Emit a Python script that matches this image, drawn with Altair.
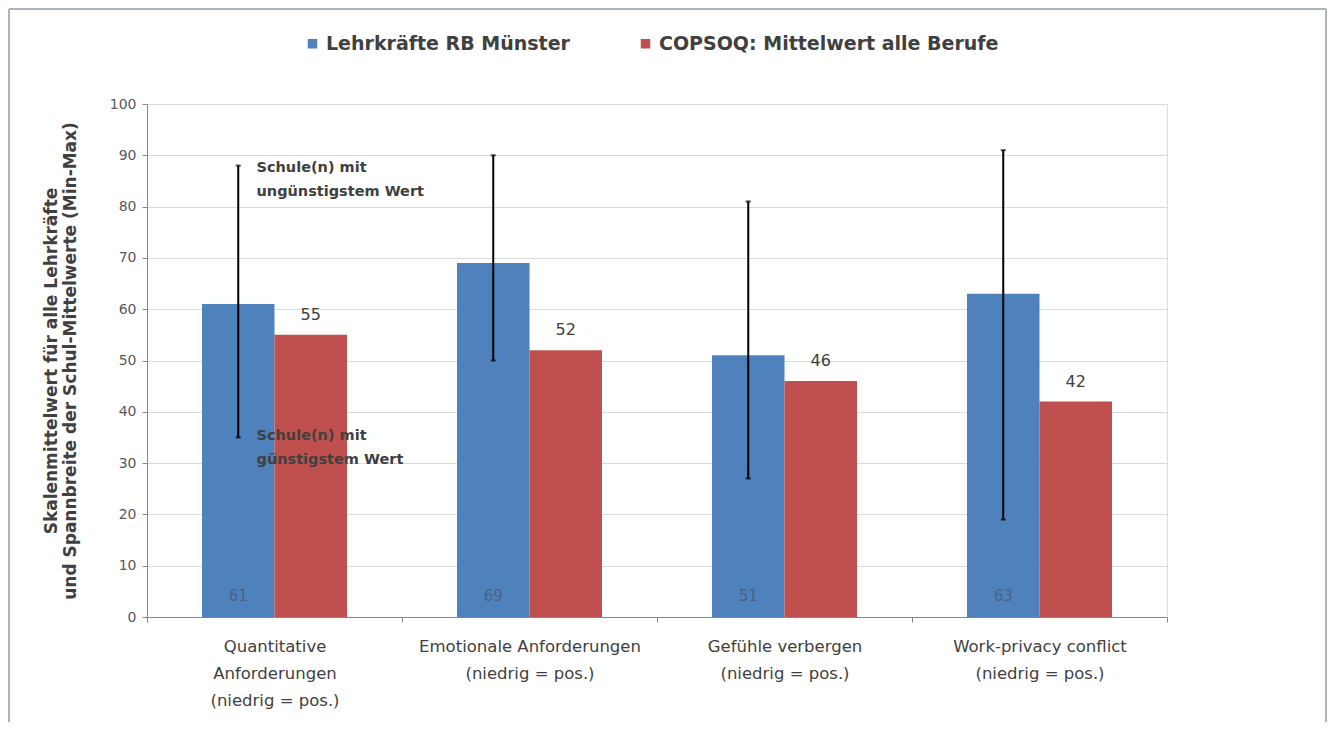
import altair as alt
import pandas as pd

categories = [
    "Quantitative\nAnforderungen\n(niedrig = pos.)",
    "Emotionale Anforderungen\n(niedrig = pos.)",
    "Gefühle verbergen\n(niedrig = pos.)",
    "Work-privacy conflict\n(niedrig = pos.)",
]
series = ["Lehrkräfte RB Münster", "COPSOQ: Mittelwert alle Berufe"]
lehrer_values = [61, 69, 51, 63]
copsoq_values = [55, 52, 46, 42]
range_min = [35, 50, 27, 19]
range_max = [88, 90, 81, 91]
annot_text = [["Schule(n) mit", "ungünstigstem Wert"], ["Schule(n) mit", "günstigstem Wert"]]
annot_y = [87.6, 35.2]

colors = ["#4F81BD", "#C0504D"]
FONT = "DejaVu Sans"

rows = []
for c, a, b in zip(categories, lehrer_values, copsoq_values):
    rows.append({"cat": c, "series": series[0], "value": a})
    rows.append({"cat": c, "series": series[1], "value": b})
bars_df = pd.DataFrame(rows)

err_df = pd.DataFrame({
    "cat": categories,
    "series": [series[0]] * 4,
    "lo": range_min,
    "hi": range_max,
    "value": lehrer_values,
})
red_df = pd.DataFrame({"cat": categories, "series": [series[1]] * 4, "value": copsoq_values})
annot_df = pd.DataFrame({"cat": [categories[0]] * 2, "txt": annot_text, "y": annot_y})

x_scale = alt.Scale(paddingInner=0, paddingOuter=0)
x_enc = alt.X(
    "cat:N",
    sort=categories,
    scale=x_scale,
    axis=alt.Axis(
        title=None,
        labelAngle=0,
        labelExpr="split(datum.label, '\\n')",
        labelFont=FONT,
        labelFontSize=16.5,
        labelColor="#404040",
        labelLineHeight=27,
        labelPadding=16,
        labelLimit=0,
        tickBand="extent",
        tickSize=5,
        tickColor="#868686",
        domainColor="#868686",
        labelBaseline="top",
    ),
)
x_plain = alt.X("cat:N", sort=categories, scale=x_scale)
xoff = alt.XOffset(
    "series:N", sort=series,
    scale=alt.Scale(domain=series, paddingInner=0, paddingOuter=0.7586),
)

bars = alt.Chart(bars_df).mark_bar().encode(
    x=x_enc,
    xOffset=xoff,
    y=alt.Y(
        "value:Q",
        scale=alt.Scale(domain=[0, 100]),
        axis=alt.Axis(
            values=list(range(0, 101, 10)),
            title=["Skalenmittelwert für alle Lehrkräfte", "und Spannbreite der Schul-Mittelwerte (Min-Max)"],
            titleFont=FONT,
            titleFontSize=17,
            titleFontWeight="bold",
            titleColor="#404040",
            titleLineHeight=19,
            titlePadding=30,
            labelFont=FONT,
            labelFontSize=14,
            labelColor="#595959",
            labelPadding=6,
            tickSize=5,
            tickColor="#868686",
            domainColor="#868686",
            gridColor="#d9d9d9",
        ),
    ),
    color=alt.Color(
        "series:N",
        sort=series,
        scale=alt.Scale(domain=series, range=colors),
        legend=alt.Legend(
            title=None,
            orient="none",
            direction="horizontal",
            legendX=156,
            legendY=-70,
            symbolType="square",
            symbolSize=90,
            symbolStrokeWidth=0,
            labelFont=FONT,
            labelFontSize=19,
            labelFontWeight="bold",
            labelColor="#404040",
            labelLimit=0,
            columnPadding=66,
            labelOffset=4,
        ),
    ),
)

err_rule = alt.Chart(err_df).mark_rule(color="black", strokeWidth=2).encode(
    x=x_plain, xOffset=xoff, y="lo:Q", y2="hi:Q"
)
cap_hi = alt.Chart(err_df).mark_tick(color="black", size=5, thickness=2).encode(
    x=x_plain, xOffset=xoff, y="hi:Q"
)
cap_lo = alt.Chart(err_df).mark_tick(color="black", size=5, thickness=2).encode(
    x=x_plain, xOffset=xoff, y="lo:Q"
)

blue_labels = alt.Chart(err_df).mark_text(
    font=FONT, fontSize=15, color="#4a6288", baseline="middle"
).encode(
    x=x_plain, xOffset=xoff, y=alt.datum(4), text="value:Q"
)
red_labels = alt.Chart(red_df).mark_text(
    font=FONT, fontSize=16, color="#404040", baseline="middle", dy=-20
).encode(
    x=x_plain, xOffset=xoff, y="value:Q", text="value:Q"
)
annots = alt.Chart(annot_df).mark_text(
    font=FONT, fontSize=14.5, fontWeight="bold", color="#404040", align="left",
    baseline="middle", dx=-18, lineHeight=24,
).encode(
    x=x_plain, y="y:Q", text="txt"
)

frame_df = pd.DataFrame({"k": [0]})
frame_col = "#a9b5c0"
top_line = alt.Chart(frame_df).mark_rule(color=frame_col, strokeWidth=2).encode(
    x=alt.value(-138), x2=alt.value(1179), y=alt.value(-95)
)
left_line = alt.Chart(frame_df).mark_rule(color=frame_col, strokeWidth=2).encode(
    x=alt.value(-138), y=alt.value(-95), y2=alt.value(625)
)
right_line = alt.Chart(frame_df).mark_rule(color=frame_col, strokeWidth=2).encode(
    x=alt.value(1179), y=alt.value(-95), y2=alt.value(625)
)

chart = alt.layer(
    bars, err_rule, cap_hi, cap_lo, blue_labels, red_labels, annots, top_line, left_line, right_line
).properties(
    width=1020,
    height=513,
    autosize=alt.AutoSizeParams(type="none"),
    padding={"left": 139, "top": 96, "right": 161, "bottom": 105},
).configure_view(stroke=None).configure(background="white")

chart.save("out.html", embed_options={"renderer": "svg", "actions": False})
